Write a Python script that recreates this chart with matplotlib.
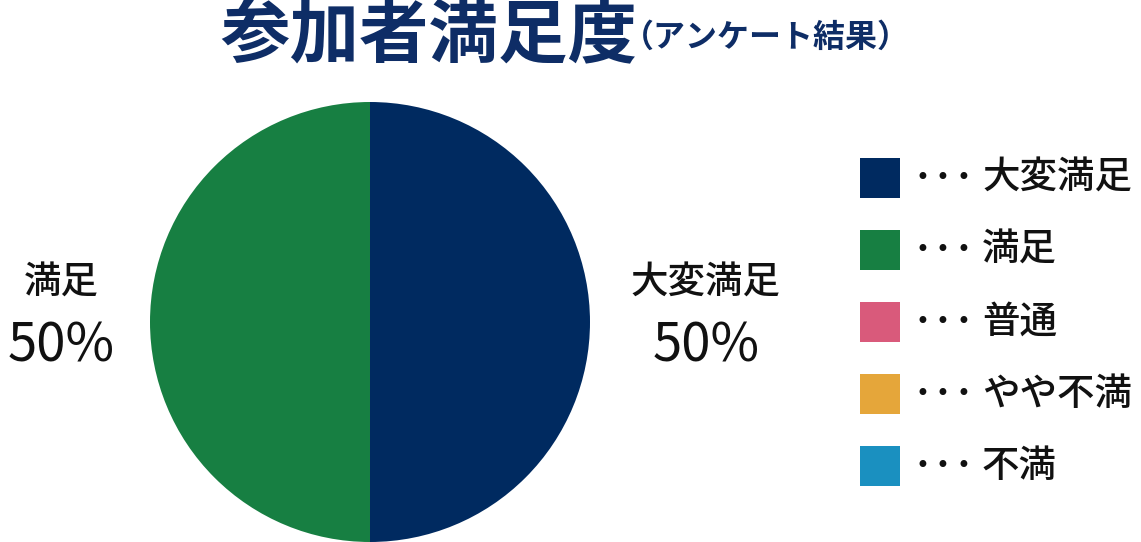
import matplotlib
matplotlib.use("Agg")
import matplotlib.pyplot as plt
from matplotlib.patches import Rectangle

plt.rcParams['font.family'] = ['Noto Sans CJK JP', 'DejaVu Sans']

# data
categories = ['大変満足', '満足', '普通', 'やや不満', '不満']
shares = [50, 50, 0, 0, 0]
colors = ['#002a60', '#177f42', '#d95a7b', '#e5a63a', '#1a90c0']
title_main = '参加者満足度'
title_sub = '（アンケート結果）'

W, H = 1141, 542
fig = plt.figure(figsize=(W / 100, H / 100), dpi=100)

# pie
ax = fig.add_axes([150 / W, 0 / H, 440 / W, 440 / H])
vals = [v for v in shares if v > 0]
cols = [c for v, c in zip(shares, colors) if v > 0]
ax.pie(vals, colors=cols, startangle=90, counterclock=False, radius=1,
       wedgeprops=dict(linewidth=0))
ax.set_xlim(-1, 1)
ax.set_ylim(-1, 1)
ax.set_aspect('equal')
ax.axis('off')

# slice labels outside the pie
label_pos = {'大変満足': (706, 283), '満足': (61, 283)}
for cat, v in zip(categories, shares):
    if v <= 0:
        continue
    px, py = label_pos[cat]
    fig.text(px / W, 1 - py / H, cat, ha='center', va='center',
             fontsize=27, fontweight='medium', color='#111111')
    fig.text(px / W, 1 - (py + 63) / H, f'{v}%', ha='center', va='center',
             fontsize=38, fontweight='normal', color='#111111')

# title
fig.text(220 / W, 1 - 36 / H, title_main, ha='left', va='center',
         fontsize=50, fontweight='bold', color='#0e2d66')
fig.text(622 / W, 1 - 38 / H, title_sub, ha='left', va='center',
         fontsize=23, fontweight='bold', color='#0e2d66')

# legend
y0, dy = 178, 72
for i, (cat, c) in enumerate(zip(categories, colors)):
    yc = y0 + i * dy
    fig.patches.append(Rectangle((860 / W, 1 - (yc + 20) / H), 40 / W, 40 / H,
                                 transform=fig.transFigure, facecolor=c,
                                 edgecolor='none'))
    for k in range(3):
        fig.text((922 + k * 20.5) / W, 1 - yc / H, '•', ha='center', va='center',
                 fontsize=17, color='#111111', family='DejaVu Sans')
    fig.text(982 / W, 1 - yc / H, cat, ha='left', va='center',
             fontsize=27, fontweight='medium', color='#111111')

fig.savefig('out.png', dpi=100)
